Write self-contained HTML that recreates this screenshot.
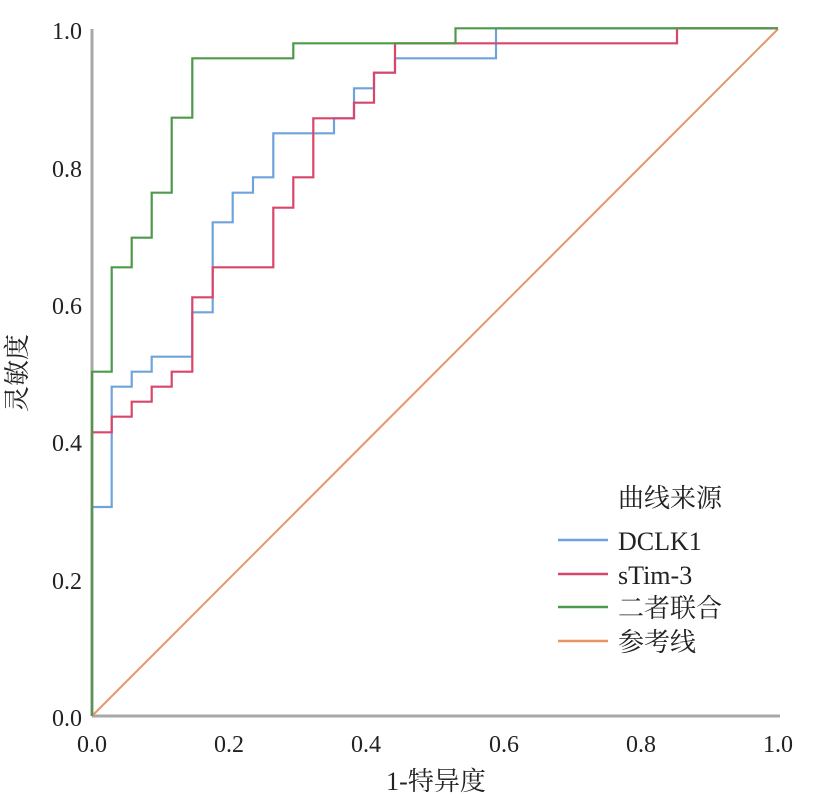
<!DOCTYPE html>
<html><head><meta charset="utf-8"><style>
html,body{margin:0;padding:0;background:#fff;}
svg text{font-family:"Liberation Serif","Noto Serif CJK SC",serif;fill:#222;}
</style></head><body>
<svg width="821" height="797" viewBox="0 0 821 797" xmlns="http://www.w3.org/2000/svg">
<g fill="none" stroke-width="2.2">
<line x1="92" y1="29" x2="92" y2="716" stroke="#a8a8a8" stroke-width="3"/>
<line x1="92" y1="716" x2="780" y2="716" stroke="#a8a8a8" stroke-width="3"/>
<line x1="92" y1="716" x2="778" y2="29" stroke="#e8956a" stroke-width="2"/>
<path stroke="#6fa3dc" d="M92,716 V507 H111.7 V386.7 H131.7 V371.7 H151.7 V356.7 H192.3 V312.3 H212.7 V222.3 H232.7 V192.7 H253 V177.3 H273.3 V133.3 H334 V118.3 H354 V88.3 H374 V72.7 H395 V58.3 H496 V28.3 H778"/>
<path stroke="#d9466a" d="M92,716 V432.3 H111.7 V416.7 H131.7 V401.7 H151.7 V386.7 H171.7 V371.7 H192.3 V297.3 H212.7 V267.3 H273.3 V207.7 H293.3 V177.3 H313.3 V118.3 H354 V102.7 H374 V72.7 H395 V43.3 H677 V28.3 H778"/>
<path stroke="#4e9a4a" d="M92,716 V371.7 H111.7 V267.3 H131.7 V237.7 H151.7 V192.7 H171.7 V117.7 H192.3 V58.3 H293.3 V43.3 H455.5 V28.3 H778"/>
</g>
<g font-size="24" text-anchor="end">
<text x="82" y="39">1.0</text>
<text x="82" y="177">0.8</text>
<text x="82" y="314">0.6</text>
<text x="82" y="451">0.4</text>
<text x="82" y="589">0.2</text>
<text x="82" y="726">0.0</text>
</g>
<g font-size="24" text-anchor="middle">
<text x="92" y="752">0.0</text>
<text x="229" y="752">0.2</text>
<text x="366" y="752">0.4</text>
<text x="504" y="752">0.6</text>
<text x="641" y="752">0.8</text>
<text x="778" y="752">1.0</text>
<text x="436" y="790" font-size="26">1-特异度</text>
<text transform="translate(26,373) rotate(-90)" font-size="26">灵敏度</text>
</g>
<g font-size="26">
<text x="618" y="507">曲线来源</text>
<text x="618" y="550">DCLK1</text>
<text x="618" y="584">sTim-3</text>
<text x="618" y="617">二者联合</text>
<text x="618" y="651">参考线</text>
</g>
<g stroke-width="2.5">
<line x1="558" y1="540" x2="608" y2="540" stroke="#6fa3dc"/>
<line x1="558" y1="574" x2="608" y2="574" stroke="#d9466a"/>
<line x1="558" y1="607" x2="608" y2="607" stroke="#4e9a4a"/>
<line x1="558" y1="641" x2="608" y2="641" stroke="#e8956a"/>
</g>
</svg>
</body></html>
